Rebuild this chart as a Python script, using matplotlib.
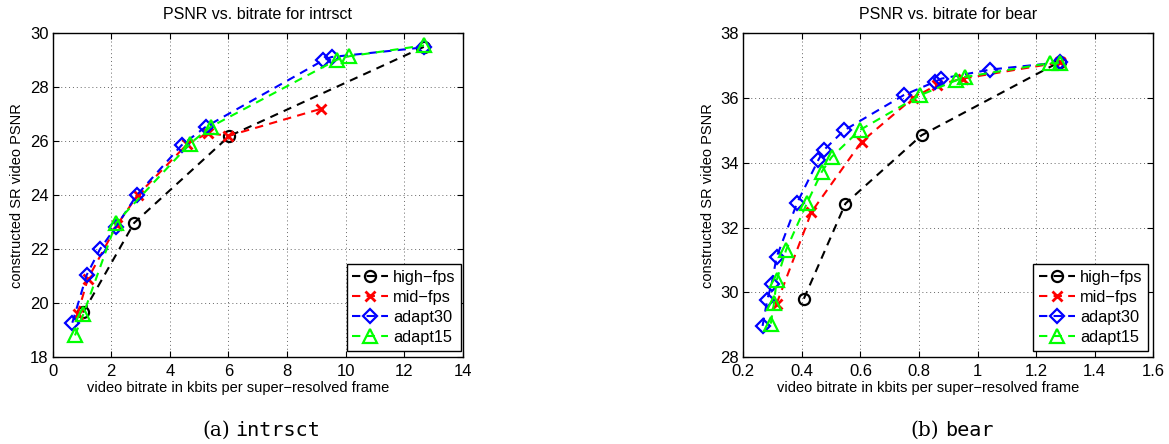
import matplotlib
matplotlib.use("Agg")
import matplotlib.pyplot as plt

# ── intrsct data ─────────────────────────────────────────────────────────────
a_high_x = [1.04, 2.78, 6.03, 12.68]
a_high_y = [19.65, 22.97, 26.19, 29.50]
a_mid_x = [0.85, 1.2, 2.2, 2.9, 4.6, 5.3, 6.0, 9.16]
a_mid_y = [19.6, 20.9, 22.9, 24.0, 25.9, 26.3, 26.2, 27.2]
a_a30_x = [0.67, 1.16, 1.61, 2.16, 2.87, 4.40, 5.22, 9.24, 9.52, 12.68]
a_a30_y = [19.27, 21.04, 21.99, 22.83, 24.00, 25.85, 26.53, 29.00, 29.12, 29.48]
a_a15_x = [0.76, 1.05, 2.16, 4.69, 5.39, 9.70, 10.13, 12.68]
a_a15_y = [18.80, 19.60, 22.97, 25.91, 26.53, 29.02, 29.15, 29.55]

# ── bear data ────────────────────────────────────────────────────────────────
b_high_x = [0.407, 0.549, 0.809, 1.281]
b_high_y = [29.80, 32.74, 34.85, 37.12]
b_mid_x = [0.314, 0.433, 0.604, 0.78, 0.86, 0.95, 1.28]
b_mid_y = [29.65, 32.48, 34.65, 36.0, 36.4, 36.6, 37.1]
b_a30_x = [0.266, 0.282, 0.297, 0.314, 0.384, 0.456, 0.475, 0.544, 0.748,
           0.854, 0.877, 1.044, 1.28]
b_a30_y = [28.96, 29.77, 30.27, 31.09, 32.76, 34.08, 34.39, 35.00, 36.09,
           36.50, 36.60, 36.88, 37.10]
b_a15_x = [0.294, 0.305, 0.314, 0.346, 0.418, 0.468, 0.502, 0.598, 0.805,
           0.928, 0.957, 1.247, 1.28]
b_a15_y = [29.03, 29.67, 30.37, 31.30, 32.76, 33.72, 34.18, 35.01, 36.09,
           36.55, 36.65, 37.08, 37.08]

labels = ["high\u2212fps", "mid\u2212fps", "adapt30", "adapt15"]
styles = [
    dict(color="k", marker="o", ms=8, mfc="none", mew=1.6),
    dict(color="#ff0000", marker="x", ms=7, mew=2.0),
    dict(color="#0000ff", marker="D", ms=7.5, mfc="none", mew=1.6),
    dict(color="#00ff00", marker="^", ms=9.5, mfc="none", mew=1.6),
]

plt.rcParams["font.family"] = ["Liberation Sans", "DejaVu Sans"]
fig = plt.figure(figsize=(11.69, 4.44), dpi=100)
renderer = fig.canvas.get_renderer()


def caption(cx, tag, name):
    # "(a) name" centred under the panel, serif tag + typewriter name
    t1 = fig.text(0, 0.018, tag, ha="left", va="baseline",
                  family="DejaVu Serif", fontsize=14.5)
    t2 = fig.text(0, 0.018, name, ha="left", va="baseline",
                  family="DejaVu Sans Mono", fontsize=14.5)
    w1 = t1.get_window_extent(renderer).width / fig.bbox.width
    w2 = t2.get_window_extent(renderer).width / fig.bbox.width
    gap = 0.005
    x0 = cx - (w1 + gap + w2) / 2
    t1.set_x(x0)
    t2.set_x(x0 + w1 + gap)


def panel(rect, series, xlim, xticks, ylim, yticks, title, tag, name, leg_x):
    ax = fig.add_axes(rect)
    for (xs, ys), lab, st in zip(series, labels, styles):
        ax.plot(xs, ys, ls=(0, (4, 3)), lw=1.5, label=lab, **st)
    ax.set_xlim(*xlim)
    ax.set_ylim(*ylim)
    ax.set_xticks(xticks)
    ax.set_yticks(yticks)
    ax.set_xticklabels([f"{t:g}" for t in xticks])
    ax.grid(True, color="#666666", ls=(0, (1, 3)), lw=0.7)
    ax.tick_params(direction="in", top=True, right=True, labelsize=12, length=4)
    ax.tick_params(axis="x", pad=5)
    ax.tick_params(axis="y", pad=3)
    for s in ax.spines.values():
        s.set_linewidth(1.0)
    ax.set_title(title, fontsize=11.5, pad=10)
    ax.set_xlabel("video bitrate in kbits per super\u2212resolved frame", fontsize=10.5, labelpad=1)
    ax.xaxis.set_label_coords(0.452, -0.075)
    ax.set_ylabel("constructed SR video PSNR", fontsize=10.5, labelpad=4)
    leg = ax.legend(loc="lower right", bbox_to_anchor=(leg_x, 0.02), borderaxespad=0,
                    fontsize=11.8, handlelength=2.2,
                    fancybox=False, edgecolor="k", framealpha=1,
                    borderpad=0.35, labelspacing=0.3, handletextpad=0.3)
    leg.get_frame().set_linewidth(1.0)
    caption(rect[0] + rect[2] / 2 + 0.003, tag, name)
    return ax


panel([0.0451, 0.196, 0.3507, 0.729],
      [(a_high_x, a_high_y), (a_mid_x, a_mid_y), (a_a30_x, a_a30_y), (a_a15_x, a_a15_y)],
      (0, 14), [0, 2, 4, 6, 8, 10, 12, 14], (18, 30), [18, 20, 22, 24, 26, 28, 30],
      "PSNR vs. bitrate for intrsct", "(a)", "intrsct", 0.997)
panel([0.6358, 0.196, 0.3507, 0.729],
      [(b_high_x, b_high_y), (b_mid_x, b_mid_y), (b_a30_x, b_a30_y), (b_a15_x, b_a15_y)],
      (0.2, 1.6), [0.2, 0.4, 0.6, 0.8, 1.0, 1.2, 1.4, 1.6], (28, 38), [28, 30, 32, 34, 36, 38],
      "PSNR vs. bitrate for bear", "(b)", "bear", 0.988)

fig.savefig("out.png", dpi=100)
